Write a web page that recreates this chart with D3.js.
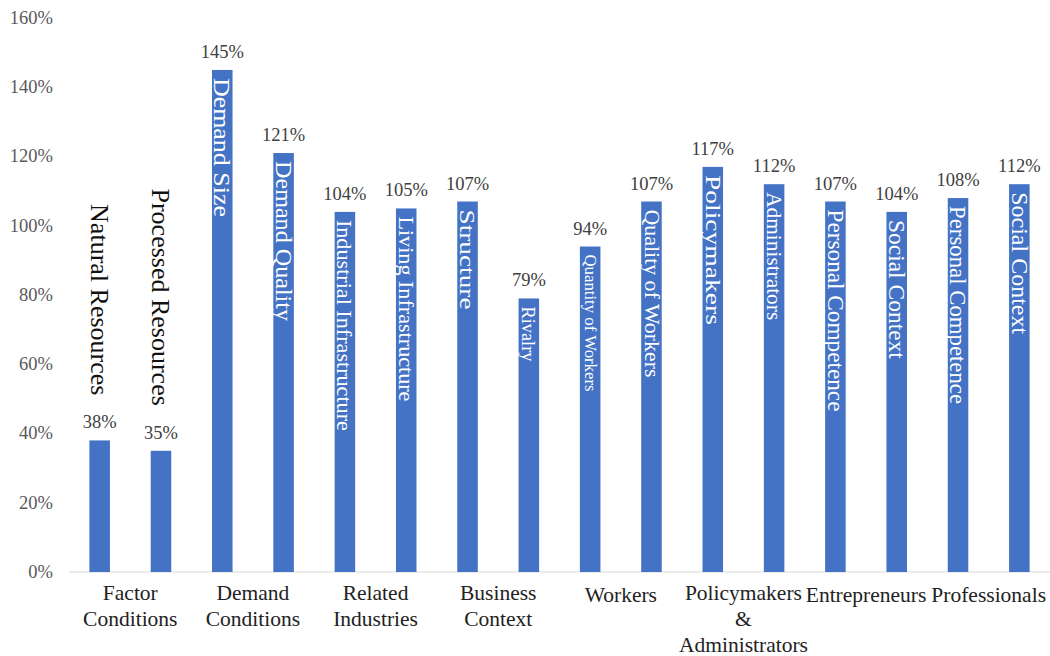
<!DOCTYPE html>
<html lang="en">
<head>
  <meta charset="UTF-8">
  <title>Competitiveness factors</title>
  <script src="https://cdn.jsdelivr.net/npm/d3@7"></script>
  <style>
    body { margin: 0; background: #fff; }
  </style>
</head>
<body>
  <script>
    // groups (two bars each), one entry per line of the axis label
    const groupLines = [
      ["Factor", "Conditions"],
      ["Demand", "Conditions"],
      ["Related", "Industries"],
      ["Business", "Context"],
      ["Workers"],
      ["Policymakers", "&", "Administrators"],
      ["Entrepreneurs"],
      ["Professionals"]
    ];
    const barNames = [
      "Natural Resources", "Processed Resources",
      "Demand Size", "Demand Quality",
      "Industrial Infrastructure", "Living Infrastructure",
      "Structure", "Rivalry",
      "Quantity of Workers", "Quality of Workers",
      "Policymakers", "Administrators",
      "Personal Competence", "Social Context",
      "Personal Competence", "Social Context"
    ];
    const values = [38, 35, 145, 121, 104, 105, 107, 79, 94, 107, 117, 112, 107, 104, 108, 112];
    const yTicks = [0, 20, 40, 60, 80, 100, 120, 140, 160];

    // text styling of the bar names (font size, drawn length)
    const nameFont = [26, 26, 23, 23, 22, 22, 21, 19, 16.5, 20, 20, 21, 23, 23, 23, 23];
    const nameLen = [null, null, 139, 160, 211, 185, 100, 55, 137, 168, 150, 128, 202, 139, 198, 142];

    const width = 1050, height = 656;
    const margin = {left: 69, right: 0, top: 18, bottom: 84};
    const blue = "#4472C4";
    const serif = "'Liberation Serif', 'Times New Roman', serif";

    const svg = d3.create("svg")
        .attr("width", width)
        .attr("height", height)
        .attr("font-family", serif);

    const x = d3.scaleBand()
        .domain(d3.range(values.length))
        .range([margin.left, width - margin.right])
        .paddingInner(0.665)
        .paddingOuter(0.3325);

    const y = d3.scaleLinear()
        .domain([0, 160])
        .range([height - margin.bottom, margin.top]);

    // y axis tick labels
    svg.append("g")
      .selectAll("text")
      .data(yTicks)
      .join("text")
        .attr("x", 53)
        .attr("y", d => y(d))
        .attr("dy", "0.32em")
        .attr("text-anchor", "end")
        .attr("font-size", 18.5)
        .attr("fill", "#595959")
        .text(d => d + "%");

    // baseline
    svg.append("line")
        .attr("x1", margin.left)
        .attr("x2", width - margin.right)
        .attr("y1", y(0))
        .attr("y2", y(0))
        .attr("stroke", "#d9d9d9")
        .attr("stroke-width", 1);

    // bars
    svg.append("g")
      .selectAll("rect")
      .data(values)
      .join("rect")
        .attr("x", (d, i) => x(i))
        .attr("y", d => y(d))
        .attr("width", x.bandwidth())
        .attr("height", d => y(0) - y(d))
        .attr("fill", blue);

    // value labels
    svg.append("g")
      .selectAll("text")
      .data(values)
      .join("text")
        .attr("x", (d, i) => x(i) + x.bandwidth() / 2)
        .attr("y", d => y(d) - 12)
        .attr("text-anchor", "middle")
        .attr("font-size", 18.5)
        .attr("fill", "#404040")
        .text(d => d + "%");

    // bar names, rotated: inside the bar in white, or above it in black
    svg.append("g")
      .selectAll("text")
      .data(barNames)
      .join("text")
        .attr("transform", (d, i) => {
          const cx = x(i) + x.bandwidth() / 2;
          const ty = nameLen[i] ? y(values[i]) + 8 : y(values[i]) - 45;
          return `translate(${cx},${ty}) rotate(90)`;
        })
        .attr("dy", "0.34em")
        .attr("text-anchor", (d, i) => nameLen[i] ? "start" : "end")
        .attr("font-size", (d, i) => nameFont[i])
        .attr("fill", (d, i) => nameLen[i] ? "#ffffff" : "#111111")
        .each(function(d, i) {
          if (nameLen[i]) {
            d3.select(this)
                .attr("textLength", nameLen[i])
                .attr("lengthAdjust", "spacingAndGlyphs");
          }
        })
        .text(d => d);

    // group labels under the axis
    const groupText = svg.append("g")
      .selectAll("text")
      .data(groupLines)
      .join("text")
        .attr("x", (d, g) => (x(2 * g) + x(2 * g + 1) + x.bandwidth()) / 2)
        .attr("y", d => d.length === 1 ? 602 : 600)
        .attr("text-anchor", "middle")
        .attr("font-size", 21.5)
        .attr("fill", "#222");

    groupText.selectAll("tspan")
      .data(d => d)
      .join("tspan")
        .attr("x", function() { return this.parentNode.getAttribute("x"); })
        .attr("dy", (d, k) => k === 0 ? 0 : 26)
        .text(d => d);

    document.body.appendChild(svg.node());
  </script>
</body>
</html>
